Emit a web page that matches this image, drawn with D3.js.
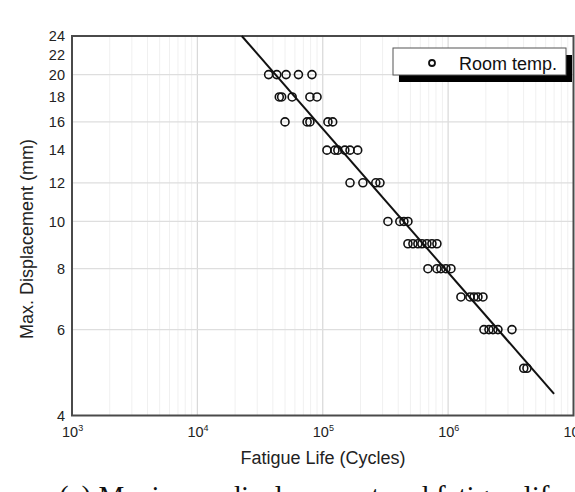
<!DOCTYPE html>
<html>
<head>
<meta charset="utf-8">
<script src="https://cdn.jsdelivr.net/npm/d3@7"></script>
<style>
  body { margin: 0; background: #fff; }
  svg { display: block; font-family: "Liberation Sans", Arial, sans-serif; }
</style>
</head>
<body>
<svg></svg>
<script>

// Fatigue test results, room temperature: max displacement (mm) vs cycles to failure
var dispLevels = [20, 18, 16, 14, 12, 10, 9, 8, 7, 6, 5];
var cyclesAtLevel = [
  [37000, 43000, 51000, 64000, 82000],
  [45000, 47000, 57000, 79000, 90000],
  [50000, 75000, 79000, 110000, 120000],
  [108000, 125000, 132000, 150000, 165000, 190000],
  [165000, 209000, 265000, 286000],
  [331000, 412000, 444000, 478000],
  [478000, 524000, 574000, 618000, 677000, 743000, 814000],
  [690000, 814000, 876000, 960000, 1053000],
  [1265000, 1493000, 1607000, 1729000, 1896000],
  [1931000, 2117000, 2278000, 2497000, 3230000],
  [4012000, 4255000]
];

// fitted S-N line (end points)
var fitCycles = [22600, 7000000];
var fitDisp = [24, 4.43];

var yTicks = [4, 6, 8, 10, 12, 14, 16, 18, 20, 22, 24];
var yGrid = [6, 8, 10, 12, 16, 20];
var xDecades = [3, 4, 5, 6, 7];

var margin = {top: 36, right: 1.5, bottom: 76.5, left: 72},
    width = 575 - margin.left - margin.right,
    height = 492 - margin.top - margin.bottom;

var svg = d3.select("svg")
    .attr("width", 575)
    .attr("height", 492);

var g = svg.append("g")
    .attr("transform", "translate(" + margin.left + "," + margin.top + ")");

var x = d3.scaleLog().domain([1e3, 1e7]).range([0, width]);
var y = d3.scaleLog().domain([4, 24]).range([height, 0]);

// minor vertical grid
var minor = [];
xDecades.slice(0, -1).forEach(function(e) {
  for (var k = 2; k <= 9; k++) minor.push(k * Math.pow(10, e));
});

g.selectAll(".vminor")
    .data(minor)
  .enter().append("line")
    .attr("x1", function(d) { return x(d); })
    .attr("x2", function(d) { return x(d); })
    .attr("y1", 0)
    .attr("y2", height)
    .style("stroke", "#f0f0f0")
    .style("stroke-width", 1);

g.selectAll(".vmajor")
    .data(xDecades.slice(1, -1))
  .enter().append("line")
    .attr("x1", function(d) { return x(Math.pow(10, d)); })
    .attr("x2", function(d) { return x(Math.pow(10, d)); })
    .attr("y1", 0)
    .attr("y2", height)
    .style("stroke", "#d8d8d8")
    .style("stroke-width", 1.2);

g.selectAll(".hgrid")
    .data(yGrid)
  .enter().append("line")
    .attr("x1", 0)
    .attr("x2", width)
    .attr("y1", function(d) { return y(d); })
    .attr("y2", function(d) { return y(d); })
    .style("stroke", "#dedede")
    .style("stroke-width", 1.2);

// y axis labels
var yAxis = d3.axisLeft(y)
    .tickValues(yTicks)
    .tickFormat(d3.format("d"))
    .tickSize(0)
    .tickPadding(7);

g.append("g")
    .attr("class", "y axis")
    .call(yAxis)
    .call(function(s) { s.select(".domain").remove(); })
  .selectAll("text")
    .style("font-size", "14.5px")
    .style("fill", "#222");

// x axis labels as 10^n
var xl = g.append("g")
    .attr("transform", "translate(0," + height + ")");

var lab = xl.selectAll(".xlab")
    .data(xDecades)
  .enter().append("text")
    .attr("x", function(d) { return x(Math.pow(10, d)) - 10; })
    .attr("y", 21)
    .style("font-size", "14.5px")
    .style("fill", "#222");
lab.append("tspan").text("10");
lab.append("tspan")
    .attr("dy", -6)
    .style("font-size", "9px")
    .text(function(d) { return d; });

// frame
g.append("rect")
    .attr("width", width)
    .attr("height", height)
    .style("fill", "none")
    .style("stroke", "#4a4a4a")
    .style("stroke-width", 2);

// fit line
g.append("line")
    .attr("x1", x(fitCycles[0]))
    .attr("y1", y(fitDisp[0]))
    .attr("x2", x(fitCycles[1]))
    .attr("y2", y(fitDisp[1]))
    .style("stroke", "#111")
    .style("stroke-width", 2);

// points
var pts = [];
dispLevels.forEach(function(dv, i) {
  cyclesAtLevel[i].forEach(function(n) { pts.push([n, dv]); });
});

g.selectAll(".pt")
    .data(pts)
  .enter().append("circle")
    .attr("cx", function(d) { return x(d[0]); })
    .attr("cy", function(d) { return y(d[1]); })
    .attr("r", 4)
    .style("fill", "none")
    .style("stroke", "#111")
    .style("stroke-width", 1.6);

// legend
svg.append("rect")
    .attr("x", 399).attr("y", 55)
    .attr("width", 173).attr("height", 27)
    .style("fill", "#000");
svg.append("rect")
    .attr("x", 393).attr("y", 48)
    .attr("width", 173).attr("height", 27)
    .style("fill", "#fff")
    .style("stroke", "#555")
    .style("stroke-width", 1);
svg.append("circle")
    .attr("cx", 432).attr("cy", 63)
    .attr("r", 3)
    .style("fill", "none")
    .style("stroke", "#111")
    .style("stroke-width", 1.8);
svg.append("text")
    .attr("x", 459).attr("y", 69.5)
    .style("font-size", "18px")
    .style("fill", "#111")
    .text("Room temp.");

// axis titles
svg.append("text")
    .attr("transform", "rotate(-90)")
    .attr("x", -(margin.top + 203))
    .attr("y", 33)
    .style("text-anchor", "middle")
    .style("font-size", "18px")
    .style("fill", "#222")
    .text("Max. Displacement (mm)");

svg.append("text")
    .attr("x", 323)
    .attr("y", 464)
    .style("text-anchor", "middle")
    .style("font-size", "18px")
    .style("fill", "#222")
    .text("Fatigue Life (Cycles)");

// figure caption (cut off by the frame, as in the source)
svg.append("text")
    .attr("x", 59)
    .attr("y", 506)
    .style("font-family", "'Liberation Serif', 'Times New Roman', serif")
    .style("font-size", "29px")
    .style("fill", "#111")
    .text("(a) Maximum displacement and fatigue life");

</script>
</body>
</html>
